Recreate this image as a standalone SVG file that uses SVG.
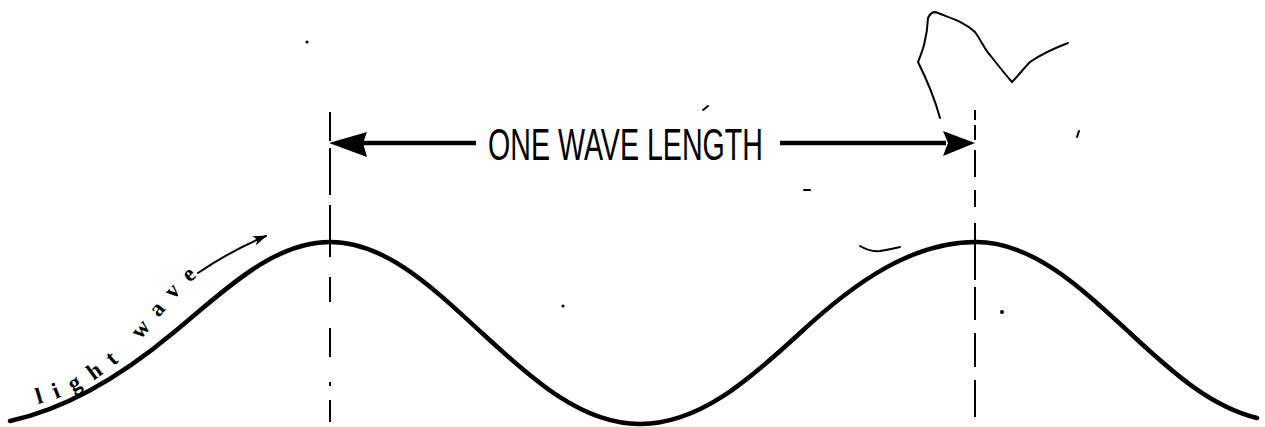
<svg xmlns="http://www.w3.org/2000/svg" width="1265" height="427" viewBox="0 0 1265 427">
<style>
.wave{fill:none;stroke:#000;stroke-width:4.5;stroke-linecap:round}
.dash{fill:none;stroke:#000;stroke-width:2}
.shaft{fill:none;stroke:#000;stroke-width:4.5}
.thin{fill:none;stroke:#000;stroke-width:2;stroke-linecap:round}
.big{font-family:"Liberation Sans",Arial,sans-serif;font-size:45px;fill:#000}
.small{font-family:"Liberation Serif","Times New Roman",serif;font-size:23px;font-weight:bold;fill:#000;letter-spacing:12px}
</style>
<defs>
<marker id="ah" markerWidth="14" markerHeight="10" refX="13" refY="5" orient="auto" markerUnits="userSpaceOnUse">
<path d="M0,0 L14,5 L0,10 L4,5 Z" fill="#000"/>
</marker>
<path id="lw" d="M38,404 C80,394 114,370 142,338 S180,288 215,262"/>
</defs>
<rect width="1265" height="427" fill="#fff"/>
<g id="wave">
<path class="wave" d="M10,421 C70,408 125,373 173,333 C225,290 273,242 330,242 C385,242 431,286 482,333 C535,382 583,424 640,424 C698,424 747,382 800,333 C855,282 912,242 976,242 C1032,242 1079,286 1130,333 C1175,375 1212,407 1257,418"/>
</g>
<g id="guides">
<path class="dash" d="M330,112 V141 M330,148 V195 M330,205 V257 M330,277 V302 M330,328 V357 M330,382 V386 M330,400 V422"/>
<path class="dash" d="M975,110 V120 M975,125 V140 M975,150 V177 M975,190 V207 M975,223 V280 M975,287 V320 M975,333 V367 M975,380 V417"/>
</g>
<g id="connectors">
<path class="shaft" d="M362,143 H476"/>
<path d="M329,143 L367,132 L363,143 L367,157 Z" fill="#000"/>
<path class="shaft" d="M780,143 H946"/>
<path d="M975,143 L943,131 L948,143 L943,156 Z" fill="#000"/>
<path class="thin" d="M198,273 Q232,250 266,236" marker-end="url(#ah)"/>
</g>
<g id="label">
<text class="big" x="488" y="160" textLength="275" lengthAdjust="spacingAndGlyphs">ONE WAVE LENGTH</text>
</g>
<g id="lightwave">
<text class="small"><textPath href="#lw">light wave</textPath></text>
</g>
<g id="marks">
<path class="thin" d="M940,118 C934,96 924,74 918,62 C922,52 927,40 928,18 C931,12 934,11 938,13 C950,18 965,22 975,32 C982,42 985,50 990,55 C997,64 1005,74 1012,82 C1018,76 1024,68 1030,62 C1040,55 1055,48 1068,43"/>
<path class="thin" d="M860,246 Q870,252 880,251 Q892,249 900,247"/>
<circle cx="307" cy="42" r="1.5"/>
<circle cx="1002" cy="312" r="2"/>
<circle cx="563" cy="306" r="1.5"/>
<path class="thin" d="M703,110 L708,106"/>
<path class="thin" d="M804,190 L810,190"/>
<path class="thin" d="M1079,131 L1077,137"/>
</g>
</svg>
